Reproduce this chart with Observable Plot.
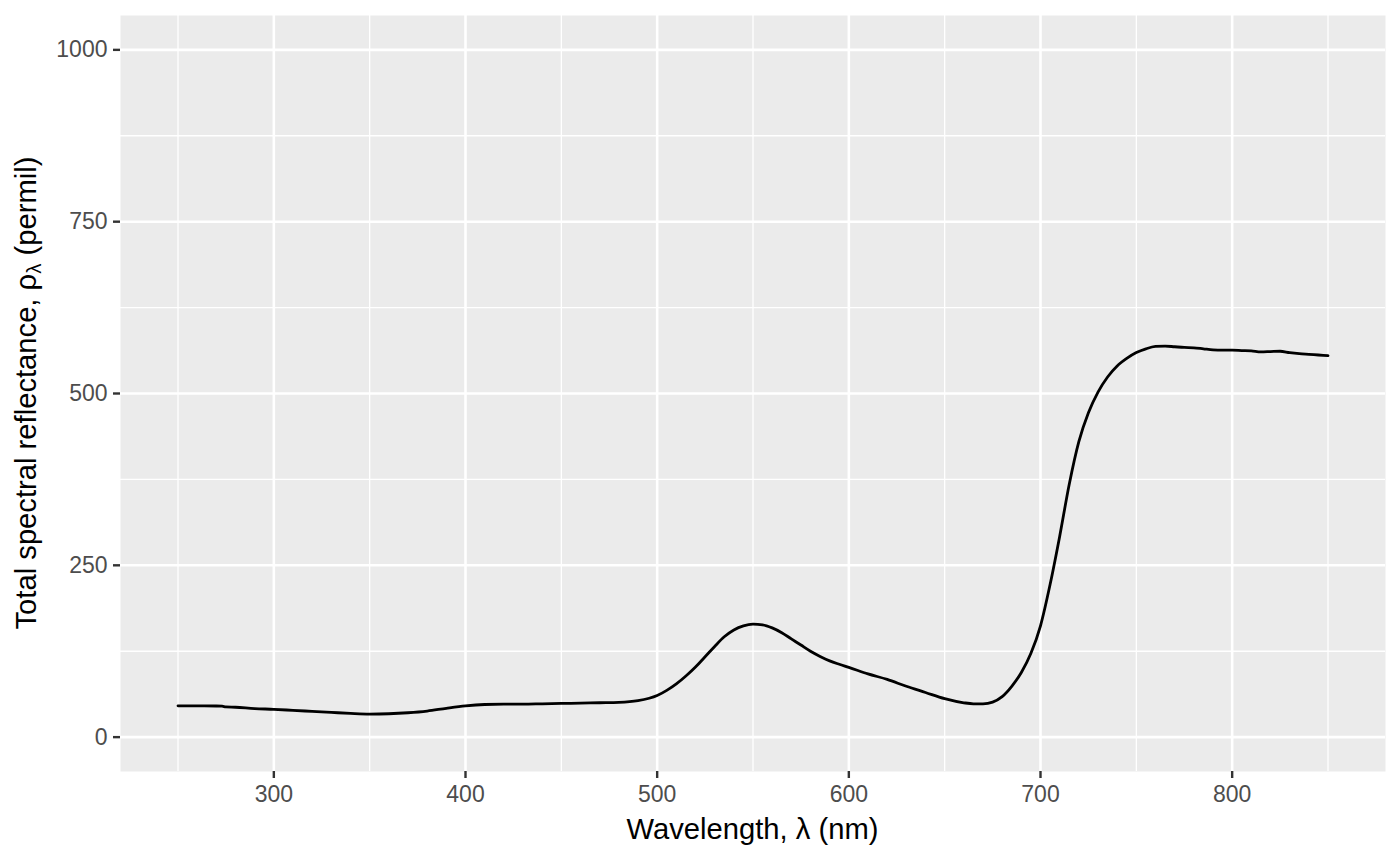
<!DOCTYPE html>
<html>
<head>
<meta charset="utf-8">
<script src="https://cdn.jsdelivr.net/npm/d3@7"></script>
<script src="https://cdn.jsdelivr.net/npm/@observablehq/plot@0.6"></script>
<style>
  html, body { margin: 0; padding: 0; background: #ffffff; }
  #chart { width: 1400px; height: 866px; }
</style>
</head>
<body>
<div id="chart"></div>
<script>
// Wavelength (nm)
const wavelength = [
  250, 260, 270, 273, 275, 280, 290, 300, 310, 320, 330, 340, 350, 360, 370, 380, 390,
  400, 410, 420, 430, 440, 450, 460, 470, 480, 490, 500, 505, 510, 515, 520, 525, 530,
  535, 540, 545, 550, 555, 560, 565, 570, 575, 580, 585, 590, 595, 600, 610, 620, 630,
  640, 650, 660, 665, 670, 675, 680, 685, 690, 695, 700, 705, 710, 715,
  720, 725, 730, 735, 740, 745, 750, 755, 760, 765, 770, 775, 780, 785, 790, 795, 800,
  805, 810, 815, 820, 825, 830, 835, 840, 845, 850
];
// Total spectral reflectance (permil)
const reflectance = [
  45.5, 45.5, 45.3, 45.0, 44.0, 43.5, 41.5, 40.5, 39.0, 37.5, 36.0, 34.5, 33.5, 34.0, 35.5, 38.0, 42.0,
  45.5, 47.5, 48.0, 48.0, 48.5, 49.0, 49.5, 50.0, 50.5, 53.0, 60.5, 68.0, 77.5, 89.0, 102.0, 117.0, 132.0,
  146.0, 156.0, 162.0, 164.5, 163.5, 159.0, 152.0, 143.0, 134.0, 125.0, 117.5, 111.0, 106.0, 101.5, 92.0, 84.0, 74.0,
  65.0, 56.0, 50.0, 48.5, 48.5, 51.0, 59.0, 74.0, 94.0, 122.0, 162.0, 222.0, 292.0, 368.0,
  430.0, 472.0, 502.0, 524.0, 540.0, 551.0, 559.5, 565.0, 568.5, 569.0, 568.0, 567.0, 566.5, 565.0, 563.5, 563.0, 563.0,
  562.5, 562.0, 560.5, 561.0, 561.5, 559.5, 558.0, 557.0, 556.0, 555.0
];
// Axis breaks
const xMajor = [300, 400, 500, 600, 700, 800];
const xMinor = [250, 350, 450, 550, 650, 750, 850];
const yMajor = [0, 250, 500, 750, 1000];
const yMinor = [125, 375, 625, 875];

const data = wavelength.map((w, i) => ({w, r: reflectance[i]}));

const W = 1400, H = 866;
const mL = 120, mR = 15, mT = 15, mB = 95;
const FONT = "'Liberation Sans', Arial, sans-serif";

const chart = Plot.plot({
  width: W,
  height: H,
  marginLeft: mL,
  marginRight: mR,
  marginTop: mT,
  marginBottom: mB,
  style: {fontFamily: FONT, fontSize: "23px", background: "#ffffff"},
  x: {domain: [220, 880]},
  y: {domain: [-50, 1050]},
  marks: [
    Plot.frame({fill: "#EBEBEB", stroke: null}),
    Plot.ruleX(xMinor, {stroke: "#ffffff", strokeWidth: 1.3}),
    Plot.ruleY(yMinor, {stroke: "#ffffff", strokeWidth: 1.3}),
    Plot.ruleX(xMajor, {stroke: "#ffffff", strokeWidth: 2.6}),
    Plot.ruleY(yMajor, {stroke: "#ffffff", strokeWidth: 2.6}),
    Plot.axisX({ticks: xMajor, tickFormat: d3.format("d"), tickSize: 7, tickPadding: 7, label: null, stroke: "#333333", strokeWidth: 2.4, fill: "#4D4D4D", fontSize: 23}),
    Plot.axisY({ticks: yMajor, tickFormat: d3.format("d"), tickSize: 7, tickPadding: 6, label: null, stroke: "#333333", strokeWidth: 2.4, fill: "#4D4D4D", fontSize: 23}),
    Plot.line(data, {x: "w", y: "r", stroke: "#000000", strokeWidth: 2.8, curve: "monotone-x"})
  ]
});

const svg = d3.select(chart);
const cx = mL + (W - mL - mR) / 2;
const cy = mT + (H - mT - mB) / 2;

svg.append("text")
  .attr("x", cx)
  .attr("y", 839)
  .attr("text-anchor", "middle")
  .attr("fill", "#000000")
  .style("font-size", "29.2px")
  .style("font-family", FONT)
  .text("Wavelength, λ (nm)");

const yt = svg.append("text")
  .attr("transform", `translate(36,${cy}) rotate(-90)`)
  .attr("text-anchor", "middle")
  .attr("fill", "#000000")
  .style("font-size", "29.2px")
  .style("font-family", FONT);
yt.append("tspan").text("Total spectral reflectance, ρ");
yt.append("tspan").attr("baseline-shift", "-25%").style("font-size", "20.5px").text("λ");
yt.append("tspan").attr("baseline-shift", "0%").text(" (permil)");

document.getElementById("chart").appendChild(chart);
</script>
</body>
</html>
